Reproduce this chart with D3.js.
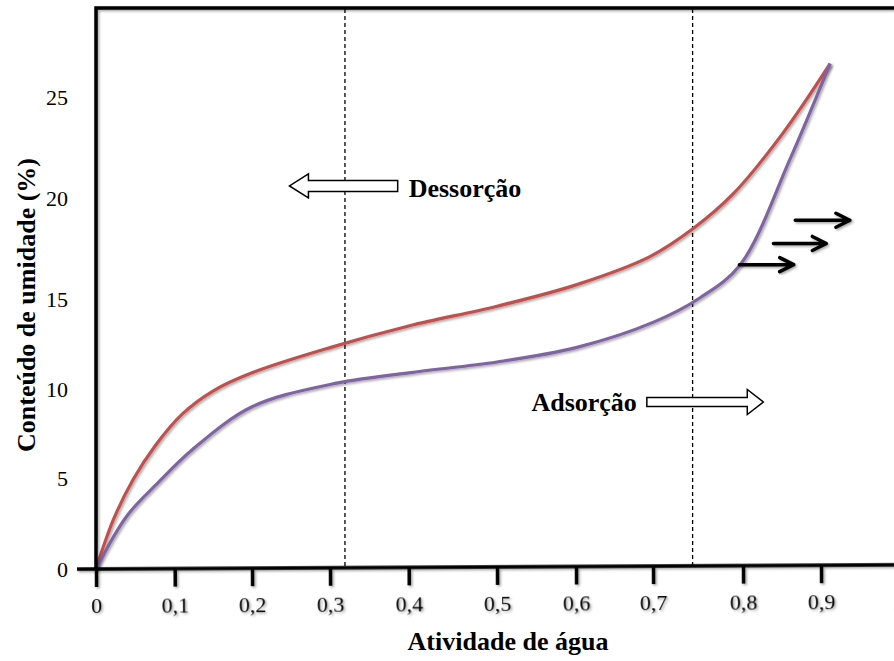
<!DOCTYPE html>
<html>
<head>
<meta charset="utf-8">
<script src="https://cdn.jsdelivr.net/npm/d3@7"></script>
<style>
  body { margin: 0; background: #fff; }
  svg text { font-family: "Liberation Serif", "Times New Roman", serif; }
</style>
</head>
<body>
<div id="chart"></div>
<script>
// tick values / labels
var xTicks = [0, 0.1, 0.2, 0.3, 0.4, 0.5, 0.6, 0.7, 0.8, 0.9, 1];
var yTicks = [0, 5, 10, 15, 20, 25];

// tick pixel stops (the axes are not evenly spaced)
var xStops = [96, 174.7, 252, 330, 408.7, 497, 576, 653, 743, 821, 897];
var yStops = [569, 478, 389, 299, 198, 97];

// desorption curve (red)
var desAw = [0, 0.022, 0.047, 0.075, 0.11, 0.15, 0.2, 0.3, 0.4, 0.5, 0.6, 0.696, 0.745, 0.789, 0.851, 0.912];
var desU  = [0, 2.7, 4.9, 6.8, 8.6, 9.9, 10.9, 12.3, 13.5, 14.6, 15.7, 17.1, 18.5, 20.2, 23.2, 26.65];

// adsorption curve (purple)
var adsAw = [0, 0.039, 0.078, 0.123, 0.2, 0.3, 0.4, 0.5, 0.6, 0.7, 0.752, 0.797, 0.86, 0.912];
var adsU  = [0, 2.9, 4.7, 6.6, 9.0, 10.25, 10.9, 11.5, 12.3, 13.7, 15.05, 16.7, 21.9, 26.65];

// vertical dashed guides
var guides = [0.319, 0.744];

var width = 894, height = 661;

var svg = d3.select("#chart")
  .append("svg")
  .attr("width", width)
  .attr("height", height);

var defs = svg.append("defs");
defs.append("filter").attr("id", "shadow")
  .attr("x", "-5%").attr("y", "-5%").attr("width", "110%").attr("height", "110%")
  .append("feDropShadow")
  .attr("dx", 1.5).attr("dy", 1.5).attr("stdDeviation", 1.2)
  .attr("flood-color", "#000").attr("flood-opacity", 0.35);

var x = d3.scaleLinear().domain(xTicks).range(xStops);
var y = d3.scaleLinear().domain(yTicks).range(yStops);

var fmt = function(d) { return String(d).replace(".", ","); };

// dashed guides
svg.selectAll(".guide")
  .data(guides)
  .enter()
  .append("line")
  .attr("class", "guide")
  .attr("x1", function(d) { return x(d); })
  .attr("x2", function(d) { return x(d); })
  .attr("y1", 9)
  .attr("y2", y(0) - 2)
  .attr("stroke", "#000")
  .attr("stroke-width", 1.3)
  .attr("stroke-dasharray", "4,3");

// curves
var line = d3.line()
  .x(function(d) { return x(d[0]); })
  .y(function(d) { return y(d[1]); })
  .curve(d3.curveCatmullRom.alpha(0.5));

svg.append("path")
  .datum(d3.zip(desAw, desU))
  .attr("d", line)
  .attr("fill", "none")
  .attr("stroke", "#c0504d")
  .attr("stroke-width", 3.2)
  .attr("filter", "url(#shadow)");

svg.append("path")
  .datum(d3.zip(adsAw, adsU))
  .attr("d", line)
  .attr("fill", "none")
  .attr("stroke", "#8064a2")
  .attr("stroke-width", 3.2)
  .attr("filter", "url(#shadow)");

// frame lines (y axis + top border)
var frame = svg.append("g").attr("filter", "url(#shadow)");
frame.append("path")
  .attr("d", "M" + x(0) + "," + (y(0) + 1) + "V8H894")
  .attr("fill", "none")
  .attr("stroke", "#000")
  .attr("stroke-width", 3.5);

// X axis (slightly tilted, as in the original drawing)
var gx = svg.append("g")
  .attr("transform", "translate(0," + y(0) + ") rotate(-0.3," + x(0) + ",0)")
  .attr("filter", "url(#shadow)")
  .call(d3.axisBottom(x).tickValues(xTicks).tickFormat(fmt).tickSize(18).tickPadding(10).tickSizeOuter(0));
gx.select(".domain").remove();
gx.append("line")
  .attr("x1", 77).attr("x2", 894)
  .attr("stroke", "#000").attr("stroke-width", 3.5);
gx.selectAll(".tick line").attr("stroke", "#000").attr("stroke-width", 3.5);
gx.selectAll(".tick text")
  .attr("fill", "#000")
  .style("font-size", "22px");

// Y axis
var gy = svg.append("g")
  .attr("transform", "translate(" + x(0) + ",0)")
  .call(d3.axisLeft(y).tickValues(yTicks).tickSize(20).tickPadding(8).tickSizeOuter(0));
gy.select(".domain").remove();
gy.selectAll(".tick line").attr("stroke", "#000").attr("stroke-width", 3.5).attr("filter", "url(#shadow)");
gy.selectAll(".tick text")
  .attr("fill", "#000")
  .style("font-size", "22px");

// axis titles
svg.append("text")
  .attr("x", 508)
  .attr("y", 650)
  .attr("text-anchor", "middle")
  .style("font-size", "26px")
  .style("font-weight", "bold")
  .text("Atividade de água");

svg.append("text")
  .attr("transform", "translate(35,305) rotate(-90)")
  .attr("text-anchor", "middle")
  .style("font-size", "26px")
  .style("font-weight", "bold")
  .text("Conteúdo de umidade (%)");

// hollow block arrows
function blockArrow(x0, x1, yc, shaftH, headH, headL) {
  var dir = x1 > x0 ? 1 : -1;
  var hb = x1 - dir * headL;
  return "M" + x0 + "," + (yc - shaftH / 2) +
    "H" + hb + "V" + (yc - headH / 2) +
    "L" + x1 + "," + yc +
    "L" + hb + "," + (yc + headH / 2) +
    "V" + (yc + shaftH / 2) +
    "H" + x0 + "Z";
}

// Dessorção arrow (points left)
svg.append("path")
  .attr("d", blockArrow(x(0.386), x(0.248), y(20.6), 11, 24, 19))
  .attr("fill", "#fff")
  .attr("stroke", "#000")
  .attr("stroke-width", 1.5);
svg.append("text")
  .attr("x", x(0.386) + 11)
  .attr("y", y(20.6) + 11)
  .style("font-size", "26px")
  .style("font-weight", "bold")
  .text("Dessorção");

// Adsorção arrow (points right)
svg.append("path")
  .attr("d", blockArrow(x(0.692), x(0.826), y(9.27), 9, 25, 16))
  .attr("fill", "#fff")
  .attr("stroke", "#000")
  .attr("stroke-width", 1.5);
svg.append("text")
  .attr("x", x(0.692) - 10)
  .attr("y", y(9.27) + 9)
  .attr("text-anchor", "end")
  .style("font-size", "26px")
  .style("font-weight", "bold")
  .text("Adsorção");

// small black arrows near the adsorption branch
var arrowStart = [0.867, 0.839, 0.796];
var arrowEnd   = [0.938, 0.907, 0.865];
var arrowLevel = [18.9, 17.75, 16.7];

var ag = svg.append("g").attr("filter", "url(#shadow)");
arrowStart.forEach(function(s, i) {
  var xs = x(s), xe = x(arrowEnd[i]), yy = y(arrowLevel[i]);
  ag.append("path")
    .attr("d", "M" + xs + "," + yy + "H" + xe + "M" + (xe - 14) + "," + (yy - 7) + "L" + xe + "," + yy + "L" + (xe - 14) + "," + (yy + 7))
    .attr("fill", "none")
    .attr("stroke", "#000")
    .attr("stroke-width", 3.5)
    .attr("stroke-linecap", "round")
    .attr("stroke-linejoin", "round");
});
</script>
</body>
</html>
